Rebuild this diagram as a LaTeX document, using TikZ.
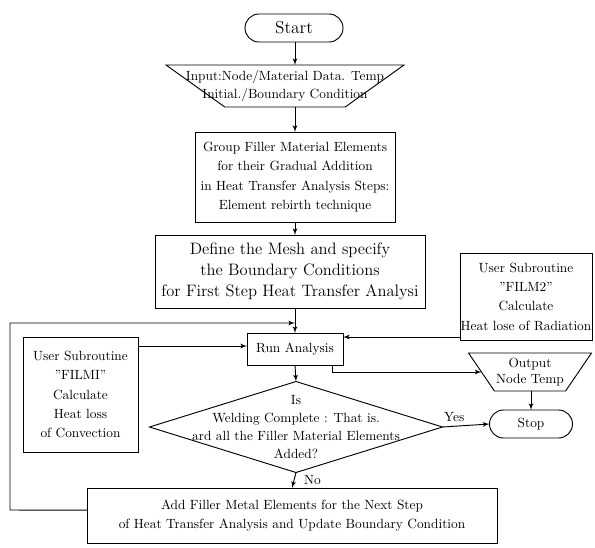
\documentclass[tikz,border=0pt]{standalone}
\usepackage{tikz}
\usetikzlibrary{shapes, arrows, positioning, calc}
\pgfdeclarelayer{bg}
\pgfsetlayers{bg,main}
\tikzstyle{term} = [rounded rectangle, draw, line width=0.7pt, text centered, inner sep=0pt, outer sep=0pt]
\tikzstyle{block} = [rectangle, draw, line width=0.7pt, align=center, inner sep=0pt, outer sep=0pt]
\tikzstyle{io} = [trapezium, shape border rotate=180, trapezium stretches=true, draw, line width=0.7pt, inner sep=2pt, outer sep=0pt]
\tikzstyle{decision} = [diamond, draw, line width=0.7pt, inner sep=0pt, outer sep=0pt]
\tikzstyle{line} = [draw, -latex', line width=0.7pt]

\begin{document}
\begin{tikzpicture}[x=0.75pt, y=-0.75pt, font=\fontsize{10}{14.5}\selectfont]
    \useasboundingbox (0,0) rectangle (595,547);

    \node[term, minimum width=73.5pt, minimum height=21pt, font=\fontsize{13}{15}\selectfont] (start) at (294,28) {Start};
    \node[io, minimum width=178.5pt, minimum height=31.5pt, trapezium angle=64,
        label={[align=center, font=\fontsize{10}{13.5}\selectfont]center:{Input:Node/Material Data. Temp\\Initial./Boundary Condition}}] (input) at (285,86) {};
    \node[block, minimum width=150pt, minimum height=67.5pt] (group) at (295,177) {Group Filler Material Elements\\for their Gradual Addition\\in Heat Transfer Analysis Steps:\\Element rebirth technique};
    \node[block, minimum width=202.5pt, minimum height=54.75pt, font=\fontsize{12.4}{16}\selectfont] (define) at (290,271.5) {Define the Mesh and specify\\the Boundary Conditions\\for First Step Heat Transfer Analysi};

    \node[block, minimum width=72pt, minimum height=24pt] (run) at (295,349) {Run Analysis};
    \node[block, minimum width=99pt, minimum height=65.25pt] (film2) at (526,296.5) {User Subroutine\\"FILM2"\\Calculate\\Heat lose of Radiation};
    \node[block, minimum width=86.25pt, minimum height=86.25pt] (film1) at (80.5,394.5) {User Subroutine\\"FILMI"\\Calculate\\Heat loss\\of Convection};

    \node[io, minimum width=92.25pt, minimum height=28.5pt, trapezium angle=70,
        label={[align=center, font=\fontsize{10}{12}\selectfont]center:{Output\\Node Temp}}] (output) at (530,372) {};
    \node[term, minimum width=62.25pt, minimum height=21pt] (stop) at (531,424) {Stop};

    \node[decision, minimum width=219.75pt, minimum height=68.25pt,
        label={[align=center, font=\fontsize{10}{13.5}\selectfont]center:{Is\\Welding Complete : That is.\\ard all the Filler Material Elements\\Added?}}] (weld) at (296,427) {};
    \node[block, minimum width=307.5pt, minimum height=41.25pt] (add) at (292,515.5) {Add Filler Metal Elements for the Next Step\\of Heat Transfer Analysis and Update Boundary Condition};

    \coordinate (back) at (10,510);
    \coordinate (join) at (295,323);
    \coordinate (f2out) at ($(film2.south west)+(0,-3)$);
    \coordinate (f1out) at ($(film1.north east)+(0,9)$);

    \begin{pgfonlayer}{bg}
        \draw[line] (start.south -| group.north) -- (group.north |- input.north);
        \draw[line] (group.north |- input.south) -- (group.north);
        \draw[line] (group.south) -- (group.south |- define.north);
        \draw[line] (run.north |- define.south) -- (run.north);

        \draw[line] ([yshift=4pt]add.west) -- (back) |- (join);
        \draw[line] (f2out) -- (f2out -| run.east);
        \draw[line] (f1out) -- (f1out -| run.west);
        \draw[line] ([xshift=-8pt]run.south east) |- (output.west);

        \draw[line] (run.south) -- (weld.north);
        \draw[line] (output.south -| stop.north) -- (stop.north);
        \draw[line] (weld.east) -- (stop.west) node[pos=0.25, above] {Yes};
        \draw[line] (weld.south) -- (add.north) node[midway, right, xshift=4pt] {No};
    \end{pgfonlayer}
\end{tikzpicture}
\end{document}
